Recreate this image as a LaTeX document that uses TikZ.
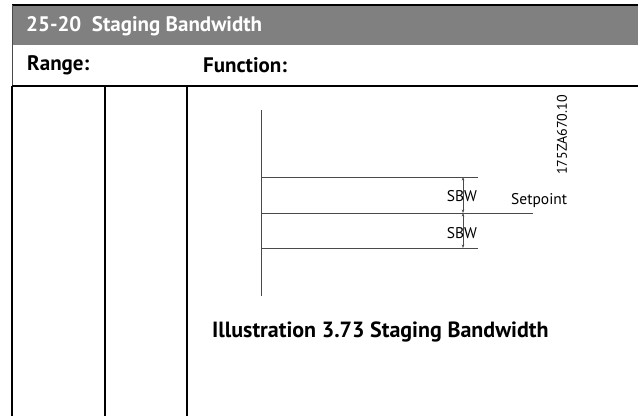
\documentclass[tikz,border=0pt]{standalone}
\usepackage{fontspec}
\setmainfont{PT Sans}
\usepackage{tikz}
\usetikzlibrary{arrows.meta}
\definecolor{headgray}{HTML}{808080}
\definecolor{axisgray}{HTML}{4A4A4A}
\tikzset{
  rulethick/.style={draw=black,line width=2.4pt},
  cellline/.style={draw=black,line width=1.6pt},
  frameline/.style={draw=axisgray,line width=.9pt},
  axisline/.style={draw=axisgray,line width=.9pt},
  dimarrow/.style={{Stealth[length=3.5pt,width=2.6pt]}-{Stealth[length=3.5pt,width=2.6pt]},draw=axisgray,line width=.6pt},
  headtext/.style={font=\bfseries\fontsize{21}{24}\selectfont,anchor=west,inner sep=0pt},
  capttext/.style={font=\bfseries\fontsize{22}{25}\selectfont,anchor=west,inner sep=0pt},
  smalltext/.style={font=\fontsize{15.5}{18}\selectfont,inner sep=0pt},
  codetext/.style={font=\fontsize{14}{16}\selectfont,inner sep=0pt,rotate=90}
}
\begin{document}
\begin{tikzpicture}[x=1pt,y=-1pt]
  \useasboundingbox (0,0) rectangle (638,416);
  % table head
  \fill[headgray] (12,6) rectangle (638,45);
  \draw[rulethick] (12,5)--(638,5);
  \draw[frameline] (12,5)--(12,86);
  \draw[rulethick] (12,86)--(638,86);
  \draw[cellline] (12,86)--(12,416);
  \draw[cellline] (105,86)--(105,416);
  \draw[cellline] (187,86)--(187,416);
  \node[headtext,text=white] (title) at (26,26) {25-20\enspace Staging Bandwidth};
  \node[headtext] (range) at (27,65) {Range:};
  \node[headtext] (func) at (203,65) {Function:};
  % staging diagram
  \coordinate (axtop) at (261,110); \coordinate (axbot) at (261,296);
  \coordinate (hi) at (261,177); \coordinate (sp) at (261,213); \coordinate (lo) at (261,248);
  \coordinate (hiend) at (478,177); \coordinate (spend) at (533,213); \coordinate (loend) at (478,248);
  \coordinate (dimhi) at (463,177); \coordinate (dimsp) at (463,213); \coordinate (dimlo) at (463,248);
  \draw[axisline] (axtop)--(axbot);
  \draw[axisline] (hi)--(hiend);
  \draw[axisline] (sp)--(spend);
  \draw[axisline] (lo)--(loend);
  \draw[dimarrow] (dimhi)--(dimsp);
  \draw[dimarrow] (dimsp)--(dimlo);
  \node[smalltext] (sbwhi) at (462,196) {SBW};
  \node[smalltext] (sbwlo) at (462,233) {SBW};
  \node[smalltext,anchor=west] (setp) at (511,201) {Setpoint};
  \node[codetext] (code) at (562,135) {175ZA670.10};
  \node[capttext] (capt) at (212,332) {Illustration 3.73 Staging Bandwidth};
\end{tikzpicture}
\end{document}
